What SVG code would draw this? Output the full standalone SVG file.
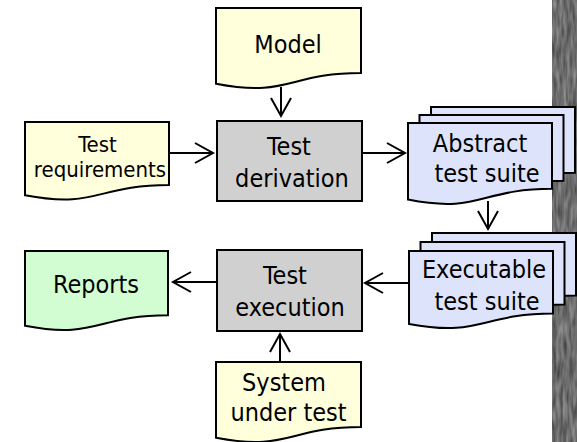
<svg xmlns="http://www.w3.org/2000/svg" width="577" height="442" viewBox="0 0 577 442">
  <defs>
    <style>
      .doc-yellow { fill: #ffffdc; stroke: #000; stroke-width: 2; }
      .doc-green { fill: #d2fdd2; stroke: #000; stroke-width: 2; }
      .doc-blue { fill: #dde3fb; stroke: #000; stroke-width: 2; }
      .proc { fill: #d0d0d0; stroke: #000; stroke-width: 2; }
      .label { font-family: 'DejaVu Sans Condensed', 'DejaVu Sans', sans-serif; font-stretch: condensed; font-size: 25px; fill: #000; text-anchor: middle; }
      .small { font-size: 22px; }
      .conn { fill: none; stroke: #000; stroke-width: 2; marker-end: url(#open); }
    </style>
    <marker id="open" markerUnits="userSpaceOnUse" markerWidth="22" markerHeight="24" refX="19" refY="11" orient="auto">
      <path d="M1,1 L19,11 L1,21" fill="none" stroke="#000" stroke-width="2"/>
    </marker>
    <!-- granite texture for the side strip -->
    <filter id="grain" x="0" y="0" width="100%" height="100%" color-interpolation-filters="sRGB">
      <feTurbulence type="fractalNoise" baseFrequency="0.3 0.05" numOctaves="2" seed="4" result="n"/>
      <feColorMatrix in="n" type="matrix" values="0.45 0 0 0 0.2  0.45 0 0 0 0.2  0.45 0 0 0 0.2  0 0 0 0 1" result="g"/>
      <feComposite in="g" in2="SourceGraphic" operator="in"/>
    </filter>
  </defs>

  <rect width="577" height="442" fill="#fff"/>

  <!-- side strip -->
  <g id="strip">
    <rect x="552" y="0" width="25" height="442" fill="#6a6a6a"/>
    <rect x="552" y="0" width="25" height="442" fill="#000" filter="url(#grain)"/>
  </g>

  <g id="model">
    <path class="doc-yellow" d="M216,8 H361 V73 C288.5,73 288.5,97.7 216,83.7 Z"/>
    <text class="label" x="288" y="53">Model</text>
  </g>

  <g id="test-requirements">
    <path class="doc-yellow" d="M25,122 H169 V185 C97,185 97,208.9 25,195.3 Z"/>
    <text class="label small" x="97.5" y="152">Test</text>
    <text class="label small" x="100" y="177">requirements</text>
  </g>

  <g id="test-derivation">
    <rect class="proc" x="217" y="121" width="145" height="80"/>
    <text class="label" x="289" y="155">Test</text>
    <text class="label" x="292" y="187">derivation</text>
  </g>

  <g id="abstract-test-suite">
    <path class="doc-blue" d="M431,107 H575 V172.8 C503,172.8 503,197.8 431,183.6 Z"/>
    <path class="doc-blue" d="M419.5,115 H563.5 V180.8 C491.5,180.8 491.5,205.8 419.5,191.6 Z"/>
    <path class="doc-blue" d="M408,123 H552 V188.8 C480,188.8 480,213.8 408,199.6 Z"/>
    <text class="label" x="480" y="152">Abstract</text>
    <text class="label" x="487" y="182">test suite</text>
  </g>

  <g id="executable-test-suite">
    <path class="doc-blue" d="M432,233 H576 V295.6 C504,295.6 504,319.4 432,305.9 Z"/>
    <path class="doc-blue" d="M420.5,242 H564.5 V304.6 C492.5,304.6 492.5,328.4 420.5,314.9 Z"/>
    <path class="doc-blue" d="M409,251 H553 V313.6 C481,313.6 481,337.4 409,323.9 Z"/>
    <text class="label" x="484" y="278">Executable</text>
    <text class="label" x="487" y="310">test suite</text>
  </g>

  <g id="test-execution">
    <rect class="proc" x="217" y="250" width="145" height="81"/>
    <text class="label" x="285" y="284">Test</text>
    <text class="label" x="290" y="316">execution</text>
  </g>

  <g id="reports">
    <path class="doc-green" d="M25,251 H168 V315.2 C96.5,315.2 96.5,339.6 25,325.7 Z"/>
    <text class="label" x="96" y="293">Reports</text>
  </g>

  <g id="system-under-test">
    <path class="doc-yellow" d="M216,362 H361 V427 C288.5,427 288.5,451.7 216,437.7 Z"/>
    <text class="label" x="284" y="391">System</text>
    <text class="label" x="288.5" y="421">under test</text>
  </g>

  <g id="connectors">
    <path class="conn" d="M281,87 V116"/>
    <path class="conn" d="M169,153 H213"/>
    <path class="conn" d="M362,153 H405"/>
    <path class="conn" d="M488,201 V229"/>
    <path class="conn" d="M409,283 H365"/>
    <path class="conn" d="M217,282 H173"/>
    <path class="conn" d="M280,362 V334"/>
  </g>
</svg>
